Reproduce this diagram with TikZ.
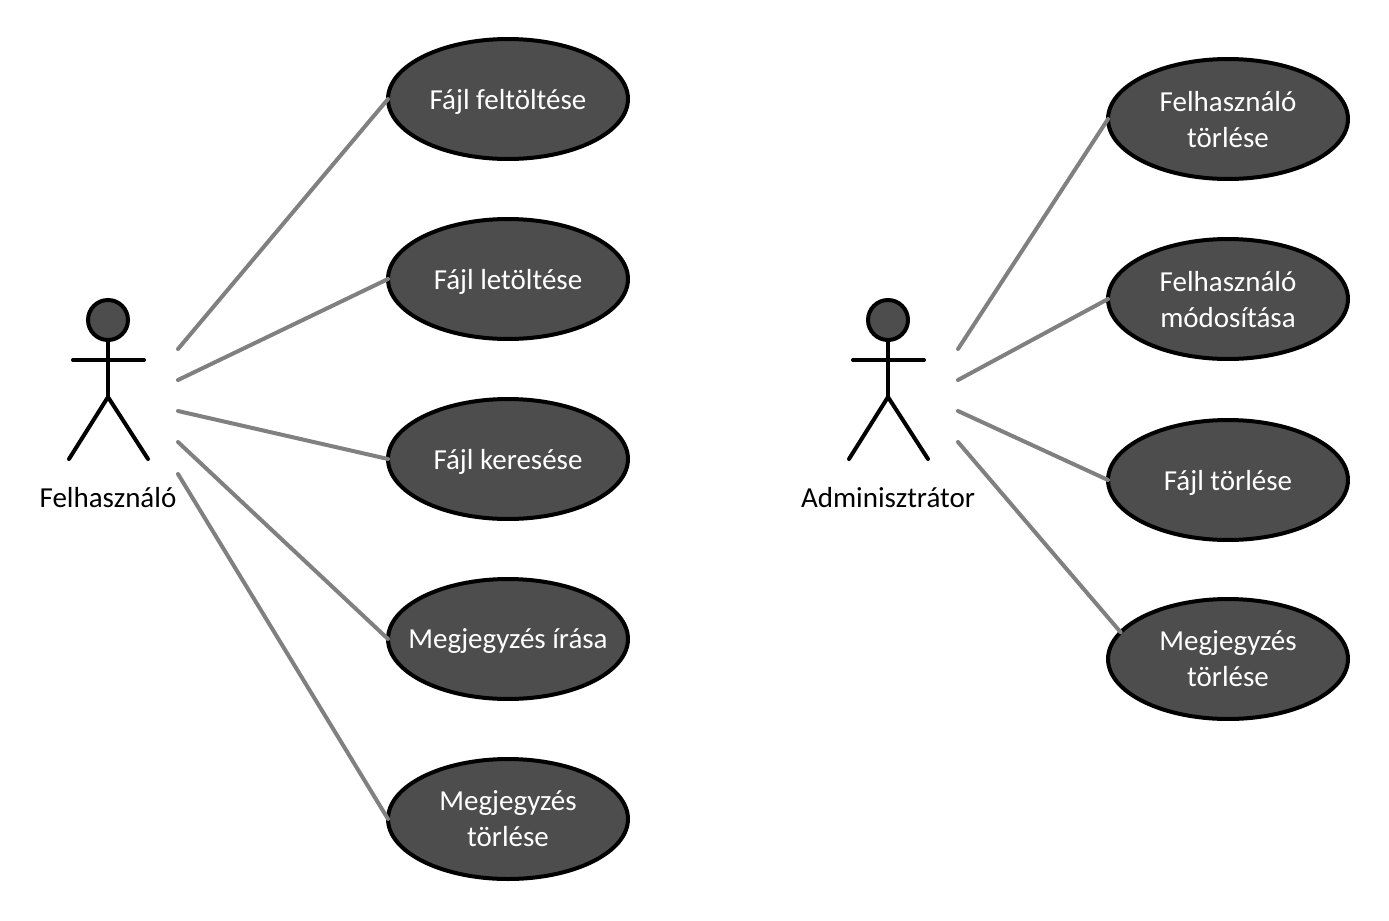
\documentclass[tikz,border=0pt]{standalone}
\usepackage{fontspec}
\setmainfont{Carlito}
\usepackage{xcolor}
\usetikzlibrary{shapes.geometric}
\definecolor{usecasegray}{HTML}{4D4D4D}
\definecolor{linkgray}{HTML}{808080}

\begin{document}
\begin{tikzpicture}[
  x=0.02cm, y=-0.02cm,
  usecase/.style={draw, ellipse, line width=0.08cm, fill=usecasegray, text=white, minimum width=4.8cm, minimum height=2.4cm, inner xsep=-0.6cm, inner ysep=0pt, outer sep=0pt, text depth=0pt, align=center, font=\fontsize{16.5}{20.5}\selectfont},
  lab/.style={font=\fontsize{16.5}{20.5}\selectfont, align=center},
  link/.style={linkgray, line width=0.08cm, line cap=round},
  limb/.style={line width=0.08cm, line cap=round}
]
\useasboundingbox (0,0) rectangle (1389,920);
% left column
\foreach \n/\y/\t in {1/99/{Fájl feltöltése},2/279/{Fájl letöltése},3/459/{Fájl keresése},4/639/{Megjegyzés írása},5/819/{Megjegyzés\\törlése}} {
  \node[usecase] (user\n) at (508,\y) {\t};
}
% right column
\foreach \n/\y/\t in {1/119/{Felhasználó\\törlése},2/299/{Felhasználó\\módosítása},3/480/{Fájl törlése},4/659/{Megjegyzés\\törlése}} {
  \node[usecase] (admin\n) at (1228,\y) {\t};
}
% actors
\foreach \name/\x in {user/108,admin/888} {
  \node[circle, draw, line width=0.08cm, fill=usecasegray, minimum size=0.8cm, inner sep=0pt, outer sep=0pt] (\name head) at (\x,320) {};
  \coordinate (\name hip) at (\x,397);
  \coordinate (\name armL) at (\x-35,360);
  \coordinate (\name armR) at (\x+36,360);
  \coordinate (\name legL) at (\x-39,459);
  \coordinate (\name legR) at (\x+40,459);
  \draw[limb] (\name head.south) -- (\name hip);
  \draw[limb] (\name armL) -- (\name armR);
  \draw[limb] (\name legL) -- (\name hip) -- (\name legR);
}
\node[lab] (userlab) at (108,498) {Felhasználó};
\node[lab] (adminlab) at (888,498) {Adminisztrátor};
% connectors
\foreach \n/\y in {1/349,2/380,3/411,4/442,5/474} {
  \coordinate (ustart\n) at (178,\y);
  \draw[link] (ustart\n) -- (user\n.west);
}
\foreach \n/\y/\a in {1/349/180,2/380/180,3/411/180,4/442/166} {
  \coordinate (astart\n) at (958,\y);
  \draw[link] (astart\n) -- (admin\n.\a);
}
\end{tikzpicture}
\end{document}
